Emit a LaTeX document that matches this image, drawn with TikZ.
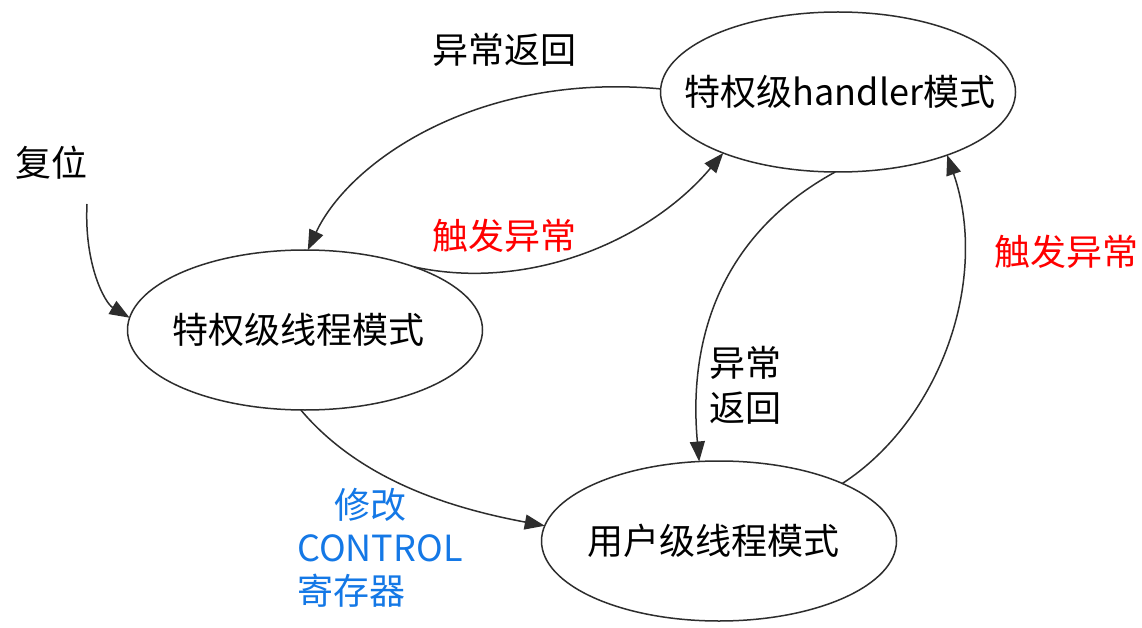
\documentclass[tikz,border=0pt]{standalone}
\usepackage{fontspec}
\setmainfont{Noto Sans CJK SC}
\usetikzlibrary{arrows.meta,shapes.geometric}
\definecolor{lblblue}{RGB}{20,120,230}
\definecolor{lblred}{RGB}{255,0,0}
\definecolor{edge}{RGB}{45,45,45}
\begin{document}
\begin{tikzpicture}[x=1pt,y=-1pt,
  state/.style={ellipse,draw=edge,line width=1.5pt,inner sep=0pt,outer sep=0pt,
    minimum width=355pt,minimum height=160pt,font=\fontsize{36}{43}\selectfont},
  lbl/.style={inner sep=0pt,font=\fontsize{36}{43}\selectfont},
  conn/.style={draw=edge,line width=1.5pt,-{Triangle[length=20pt,width=15pt]}}]
\useasboundingbox[fill=white] (0,0) rectangle (1142,628);
\node[state] (hand) at (838,92) {\makebox[0pt]{\kern4pt 特权级handler模式}};
\node[state] (thr)  at (305,330) {\makebox[0pt]{\kern-14pt 特权级线程模式}};
\node[state] (usr)  at (719,541) {\makebox[0pt]{\kern-12pt 用户级线程模式}};

\node[lbl] (reset) at (52,163) {复位};
\coordinate (rs) at (87,204);
\node[lbl] (ret1) at (504,50) {异常返回};
\node[lbl,text=lblred] (trig1) at (504,236) {触发异常};
\node[lbl,text=lblred] (trig2) at (1066,252) {触发异常};
\node[lbl,align=center,font=\fontsize{36}{45}\selectfont] (ret2) at (745,385) {异常\\返回};
\node[lbl,align=left,text=lblblue] (ctrl) at (380,548) {\hspace*{37pt}修改\\CONTROL\\寄存器};

\draw[conn] (rs) .. controls (84,265) and (105,303) .. (thr.176);
\draw[conn] (hand.179) .. controls (480,72) and (350,160) .. (thr.88);
\draw[conn] (thr.30) .. controls (530,292) and (650,240) .. (hand.208);
\draw[conn] (hand.268) .. controls (720,235) and (688,340) .. (usr.104);
\draw[conn] (usr.25) .. controls (940,420) and (990,280) .. (hand.330);
\draw[conn] (thr.267) .. controls (360,480) and (450,508) .. (usr.175);
\end{tikzpicture}
\end{document}
